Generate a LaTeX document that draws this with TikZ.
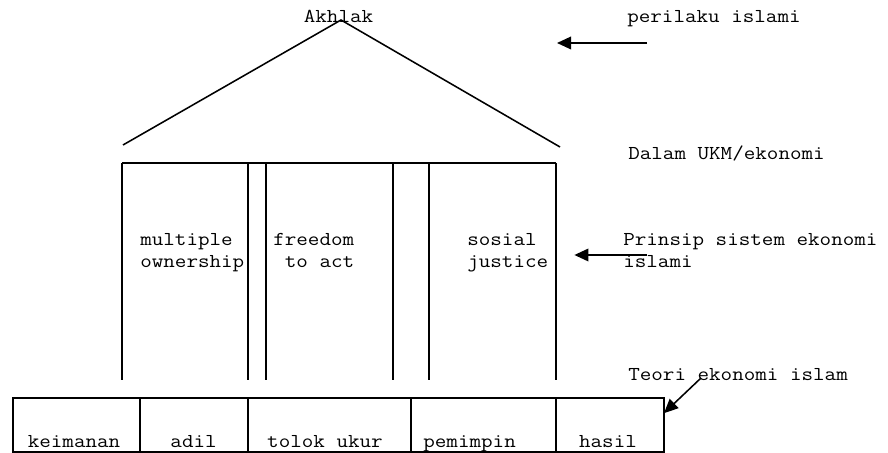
\documentclass[tikz,border=0pt]{standalone}
\usepackage{fontspec}
\newfontfamily\kurir[FakeStretch=1.14]{Latin Modern Mono}
\usetikzlibrary{arrows.meta, positioning, calc}
\tikzset{
  garis/.style={line width=1.1pt},
  teks/.style={font=\kurir\fontsize{14}{16.3}\selectfont, inner sep=0pt, align=left},
  sel/.style={draw, line width=1.1pt, outer sep=0pt, minimum height=1.35cm},
  panah/.style={-{Triangle[length=10pt, width=9pt]}, line width=1.1pt},
}

\begin{document}
\begin{tikzpicture}
  \useasboundingbox (0,0) rectangle (22.2,11.325);

  % Atap
  \node[teks, anchor=base] (akhlak) at (8.4625,10.75) {Akhlak};
  \coordinate (puncak) at (8.525,10.825);
  \coordinate (atapkiri) at (3.075,7.7);
  \coordinate (atapkanan) at (14.0,7.65);
  \draw[garis] (atapkiri) -- (puncak) -- (atapkanan);

  % Tiang
  \draw[garis] (3.05,7.25) -- (13.9,7.25);
  \foreach \x in {3.05, 6.2, 6.65, 9.825, 10.725, 13.9}
    \draw[garis] (\x,7.25) -- (\x,1.825);
  \node[teks, anchor=base west] (multi)  at (3.5,4.625)    {multiple\\ownership};
  \node[teks, anchor=base west] (free)   at (6.825,4.625)  {freedom\\\mbox{} to act};
  \node[teks, anchor=base west] (sosial) at (11.675,4.625) {sosial\\justice};

  % Fondasi
  \node[sel, minimum width=3.175cm] (s1) at (1.9125,0.7) {};
  \node[sel, minimum width=2.7cm,   right=0pt of s1] (s2) {};
  \node[sel, minimum width=4.075cm, right=0pt of s2] (s3) {};
  \node[sel, minimum width=3.625cm, right=0pt of s3] (s4) {};
  \node[sel, minimum width=2.7cm,   right=0pt of s4] (s5) {};
  \node[teks, anchor=base] (t1) at (1.85,0.125)   {keimanan};
  \node[teks, anchor=base] (t2) at (4.84,0.125)   {adil};
  \node[teks, anchor=base] (t3) at (8.125,0.125)  {tolok ukur};
  \node[teks, anchor=base] (t4) at (11.74,0.125)  {pemimpin};
  \node[teks, anchor=base] (t5) at (15.2,0.125)   {hasil};

  % Keterangan
  \node[teks, anchor=base west] (perilaku) at (15.675,10.76) {perilaku islami};
  \node[teks, anchor=base west] (dalam)    at (15.7,7.325)   {Dalam UKM/ekonomi};
  \node[teks, anchor=base west] (prinsip)  at (15.575,4.625) {Prinsip sistem ekonomi\\islami};
  \node[teks, anchor=base west] (teori)    at (15.7,1.8)     {Teori ekonomi islam};

  % Panah
  \coordinate (p1a) at (16.175,10.25);
  \coordinate (p1b) at (13.925,10.25);
  \coordinate (p2a) at (16.17,4.95);
  \coordinate (p2b) at (14.36,4.95);
  \coordinate (p3a) at (17.525,1.875);
  \coordinate (p3b) at ($(s5.north east)!0.28!(s5.south east)$);
  \draw[panah] (p1a) -- (p1b);
  \draw[panah] (p2a) -- (p2b);
  \draw[panah] (p3a) -- (p3b);
\end{tikzpicture}
\end{document}
